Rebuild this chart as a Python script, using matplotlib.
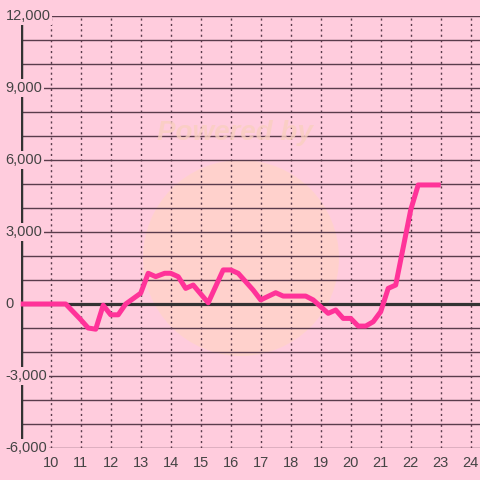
import matplotlib
matplotlib.use('Agg')
import matplotlib.pyplot as plt
import matplotlib.transforms as mtransforms
from matplotlib.patches import Circle

# hour of day vs running value
hours = [9.0, 10.5, 11.0, 11.25, 11.5, 11.75, 12.0, 12.25, 12.5, 13.0, 13.25,
         13.5, 13.8, 14.0, 14.25, 14.5, 14.75, 15.25, 15.75, 16.0, 16.25, 16.6,
         16.75, 17.0, 17.5, 17.75, 18.5, 18.75, 19.25, 19.5, 19.75, 20.0, 20.25,
         20.5, 20.75, 21.0, 21.25, 21.5, 22.0, 22.25, 23.0]
values = [0, 0, -650, -1000, -1050, -50, -450, -450, 0, 450, 1280,
          1140, 1280, 1280, 1140, 650, 790, 50, 1420, 1420, 1280, 790,
          580, 170, 470, 330, 330, 170, -390, -250, -600, -600, -920,
          -920, -740, -320, 650, 790, 3920, 4960, 4960]

y_ticks = [12000, 9000, 6000, 3000, 0, -3000, -6000]
y_labels = ['12,000', '9,000', '6,000', '3,000', '0', '-3,000', '-6,000']
x_ticks = list(range(10, 25))

bg = '#ffccdd'
grid_c = '#5a3c4c'
text_c = '#444444'
line_c = '#ff3399'

plt.rcParams['font.family'] = ['Liberation Sans', 'DejaVu Sans']

fig = plt.figure(figsize=(4.8, 4.8), dpi=100)
fig.patch.set_facecolor(bg)
ax = fig.add_axes([20.7 / 480, 32 / 480, 459.3 / 480, 432 / 480])
ax.set_facecolor(bg)
ax.set_xlim(9.0, 24.31)
ax.set_ylim(-6000, 12000)
for s in ax.spines.values():
    s.set_visible(False)

# faint watermark
ax.add_patch(Circle((0.502, 1 - 258 / 480), 98 / 480, transform=fig.transFigure,
                    facecolor='#ffd6c2', edgecolor='none', alpha=0.6, zorder=0.5))
ax.text(0.49, 1 - 133 / 480, 'Powered by', transform=fig.transFigure,
        ha='center', va='center', fontsize=20, fontweight='bold',
        fontstyle='italic', color='#f9cfc0', alpha=0.8, zorder=1.5)

# grid
for v in range(-6000, 12001, 1000):
    if v == 0:
        continue
    ax.axhline(v, color=grid_c, lw=1.0, zorder=1)
for xv in x_ticks:
    ax.axvline(xv, color=grid_c, lw=1.0, ls=(0, (1.5, 2.4)), zorder=1)
ax.axhline(0, color='#333333', lw=2.3, zorder=2)
ax.axvline(9.0, color='#333333', lw=2.5, zorder=2)

ax.plot(hours, values, color=line_c, lw=3.6, solid_joinstyle='round',
        solid_capstyle='butt', zorder=4, clip_on=False)

ax.set_xticks(x_ticks)
ax.set_xticklabels([str(x) for x in x_ticks], fontsize=10.5, color=text_c)
ax.tick_params(axis='x', length=0, pad=6)
ax.set_yticks([])

trans = mtransforms.blended_transform_factory(ax.transAxes, ax.transData)
for v, lab in zip(y_ticks, y_labels):
    ax.text(-15 / 459.3, v, lab, transform=trans, ha='left', va='center',
            fontsize=10.5, color=text_c, zorder=10, clip_on=False,
            bbox=dict(boxstyle='square,pad=0.12', fc=bg, ec='none'))

fig.savefig('out.png', dpi=100, facecolor=bg)
